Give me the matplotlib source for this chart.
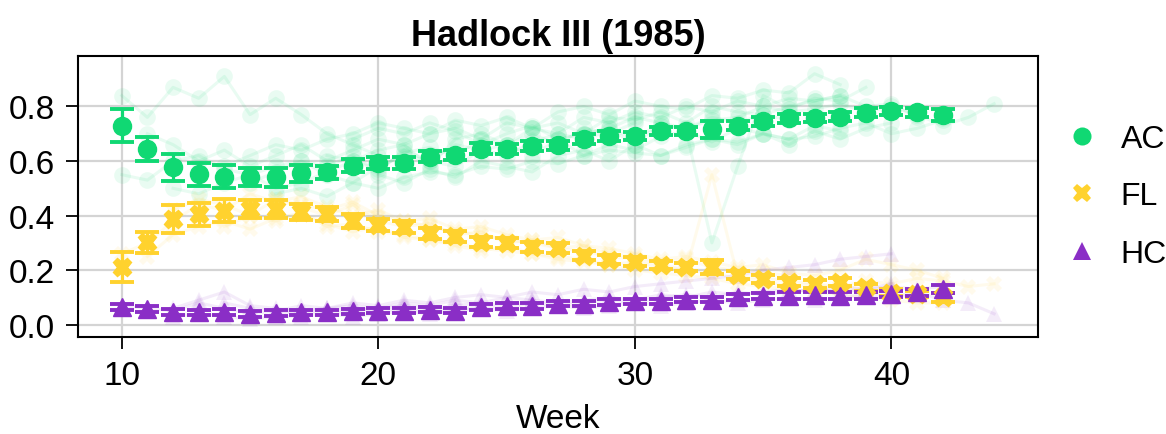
import matplotlib.pyplot as plt
from matplotlib.lines import Line2D

plt.rcParams["font.family"] = ["Liberation Sans", "DejaVu Sans"]

weeks = list(range(10, 43))

ac_mean = [0.730, 0.645, 0.577, 0.552, 0.542, 0.542, 0.540, 0.555, 0.559, 0.582,
           0.592, 0.594, 0.615, 0.622, 0.645, 0.645, 0.655, 0.657, 0.682, 0.692,
           0.692, 0.710, 0.710, 0.716, 0.730, 0.746, 0.756, 0.758, 0.762, 0.777,
           0.783, 0.779, 0.768]
ac_err = [0.060, 0.044, 0.050, 0.042, 0.042, 0.033, 0.034, 0.032, 0.024, 0.024,
          0.022, 0.022, 0.020, 0.020, 0.020, 0.018, 0.020, 0.018, 0.018, 0.018,
          0.016, 0.016, 0.016, 0.030, 0.018, 0.016, 0.016, 0.016, 0.016, 0.016,
          0.016, 0.016, 0.022]

fl_mean = [0.212, 0.302, 0.387, 0.405, 0.418, 0.424, 0.424, 0.412, 0.405, 0.381,
           0.366, 0.357, 0.335, 0.324, 0.302, 0.300, 0.284, 0.280, 0.253, 0.239,
           0.231, 0.219, 0.211, 0.211, 0.183, 0.168, 0.156, 0.150, 0.156, 0.138,
           0.118, 0.113, 0.100]
fl_err = [0.056, 0.039, 0.052, 0.042, 0.041, 0.032, 0.032, 0.030, 0.025, 0.025,
          0.022, 0.022, 0.020, 0.020, 0.018, 0.018, 0.018, 0.018, 0.016, 0.016,
          0.016, 0.015, 0.015, 0.025, 0.015, 0.014, 0.014, 0.014, 0.014, 0.013,
          0.012, 0.012, 0.018]

hc_mean = [0.065, 0.058, 0.046, 0.045, 0.046, 0.040, 0.043, 0.045, 0.045, 0.049,
           0.052, 0.052, 0.055, 0.052, 0.065, 0.068, 0.068, 0.077, 0.077, 0.083,
           0.086, 0.086, 0.092, 0.092, 0.101, 0.105, 0.107, 0.108, 0.107, 0.108,
           0.113, 0.119, 0.131]
hc_err = [0.010, 0.010, 0.010, 0.010, 0.010, 0.010, 0.010, 0.010, 0.010, 0.010,
          0.010, 0.010, 0.010, 0.010, 0.010, 0.010, 0.010, 0.010, 0.010, 0.010,
          0.010, 0.010, 0.010, 0.010, 0.012, 0.012, 0.012, 0.012, 0.012, 0.012,
          0.012, 0.012, 0.016]

# individual studies: (first week, values)
ac_traces = [
    (10, [0.84, 0.76, 0.87, 0.83, 0.91, 0.77, 0.83, 0.77, 0.70, 0.66, 0.62]),
    (10, [0.55, 0.53, 0.60, 0.62, 0.57, 0.55, 0.50, 0.52, 0.56, 0.60, 0.57, 0.63, 0.65,
          0.62, 0.68, 0.66, 0.70, 0.66, 0.72, 0.70, 0.74]),
    (12, [0.50, 0.48, 0.52, 0.55, 0.58, 0.60, 0.55, 0.52, 0.58, 0.62, 0.60, 0.58, 0.64,
          0.66, 0.62, 0.68, 0.70, 0.72, 0.66, 0.74, 0.72, 0.75, 0.76, 0.80, 0.78, 0.79,
          0.81, 0.78]),
    (28, [0.70, 0.72, 0.76, 0.74, 0.71, 0.30, 0.58, 0.84, 0.79, 0.83, 0.82, 0.87]),
    (14, [0.58, 0.62, 0.66, 0.64, 0.68, 0.70, 0.74, 0.72, 0.70, 0.75, 0.73, 0.76, 0.72,
          0.78, 0.80, 0.77, 0.82, 0.80, 0.79, 0.84, 0.83, 0.86, 0.85, 0.92, 0.88]),
    (16, [0.48, 0.50, 0.47, 0.52, 0.50, 0.54, 0.56, 0.55, 0.58, 0.57, 0.60, 0.59, 0.62,
          0.64, 0.63, 0.62, 0.66, 0.68, 0.66, 0.70, 0.68, 0.69, 0.72, 0.74, 0.70, 0.72,
          0.75]),
    (18, [0.62, 0.60, 0.64, 0.66, 0.58, 0.68, 0.70, 0.66, 0.72, 0.74, 0.70, 0.76, 0.75,
          0.78, 0.74, 0.80, 0.78, 0.77, 0.80, 0.82, 0.84, 0.80, 0.81, 0.76]),
    (39, [0.78, 0.80, 0.77, 0.73, 0.76, 0.81]),
    (20, [0.55, 0.52, 0.57, 0.54, 0.60, 0.58, 0.56, 0.62, 0.64, 0.60, 0.66, 0.62, 0.65,
          0.68, 0.67, 0.70, 0.66, 0.71, 0.68, 0.72, 0.74]),
    (11, [0.70, 0.66, 0.60, 0.64, 0.58, 0.62, 0.66, 0.60, 0.64, 0.68, 0.66, 0.70, 0.72,
          0.68, 0.74, 0.72, 0.70, 0.76, 0.74, 0.78, 0.76, 0.80, 0.78, 0.82, 0.80, 0.83,
          0.82, 0.84]),
    (15, [0.52, 0.56, 0.60, 0.58, 0.62, 0.56, 0.64, 0.60, 0.66, 0.64, 0.62, 0.67, 0.70,
          0.68, 0.71, 0.69, 0.73, 0.72, 0.76, 0.74, 0.77, 0.75]),
    (19, [0.68, 0.72, 0.70, 0.74, 0.71, 0.66, 0.70, 0.73, 0.68, 0.62, 0.66, 0.64, 0.69,
          0.71, 0.67, 0.72, 0.70, 0.68, 0.73, 0.71]),
]

fl_traces = [
    (10, [0.26, 0.30, 0.38, 0.44, 0.42, 0.48, 0.45, 0.47, 0.43, 0.40, 0.42, 0.38, 0.36,
          0.34, 0.33, 0.31, 0.30, 0.28, 0.27, 0.25, 0.24, 0.22, 0.20, 0.55, 0.18, 0.17,
          0.16, 0.15, 0.14, 0.13, 0.12]),
    (11, [0.25, 0.33, 0.36, 0.38, 0.35, 0.39, 0.41, 0.37, 0.34, 0.36, 0.32, 0.31, 0.29,
          0.27, 0.29, 0.26, 0.25, 0.24, 0.22, 0.23, 0.21, 0.20, 0.19, 0.17, 0.16, 0.14,
          0.15, 0.13, 0.12, 0.11, 0.10]),
    (12, [0.42, 0.46, 0.44, 0.40, 0.46, 0.44, 0.42, 0.45, 0.40, 0.38, 0.39, 0.35, 0.36,
          0.33, 0.31, 0.32, 0.29, 0.28, 0.26, 0.24, 0.25, 0.23, 0.21, 0.22, 0.19, 0.18,
          0.20, 0.24, 0.22, 0.20, 0.17]),
    (14, [0.36, 0.40, 0.38, 0.41, 0.36, 0.37, 0.34, 0.33, 0.31, 0.30, 0.28, 0.27, 0.26,
          0.24, 0.23, 0.22, 0.20, 0.19, 0.18, 0.17, 0.15, 0.14, 0.13, 0.12, 0.11, 0.10,
          0.09, 0.08, 0.08]),
    (38, [0.14, 0.16, 0.15, 0.17, 0.16, 0.14, 0.15]),
    (16, [0.46, 0.43, 0.40, 0.44, 0.38, 0.36, 0.37, 0.33, 0.34, 0.30, 0.31, 0.28, 0.29,
          0.26, 0.25, 0.23, 0.24, 0.21, 0.20, 0.19, 0.18]),
]

hc_traces = [
    (10, [0.07, 0.06, 0.05, 0.08, 0.06, 0.04, 0.05, 0.05, 0.06, 0.05, 0.06, 0.07, 0.06,
          0.07, 0.08, 0.07, 0.09, 0.08, 0.09, 0.10, 0.09, 0.11, 0.10, 0.12, 0.11, 0.12,
          0.13, 0.12, 0.14, 0.13, 0.14, 0.13, 0.14]),
    (14, [0.08, 0.06, 0.05, 0.07, 0.06, 0.08, 0.07, 0.09, 0.08, 0.10, 0.11, 0.10, 0.12,
          0.11, 0.13, 0.12, 0.14, 0.15, 0.16, 0.17, 0.18, 0.20, 0.21, 0.22, 0.24, 0.25,
          0.26]),
    (12, [0.03, 0.04, 0.03, 0.02, 0.03, 0.03, 0.04, 0.03, 0.04, 0.05, 0.04, 0.05, 0.06,
          0.05, 0.06, 0.07, 0.06, 0.07, 0.08, 0.07, 0.08, 0.09, 0.08, 0.09, 0.10, 0.09,
          0.10, 0.11, 0.10, 0.12, 0.09, 0.08, 0.04]),
    (16, [0.04, 0.05, 0.04, 0.05, 0.06, 0.05, 0.06, 0.05, 0.07, 0.06, 0.08, 0.07, 0.08,
          0.09, 0.08, 0.10, 0.11, 0.10, 0.12, 0.11, 0.12, 0.13, 0.12, 0.13, 0.15]),
    (12, [0.06, 0.09, 0.12, 0.07, 0.06, 0.05, 0.06, 0.07, 0.06, 0.08, 0.07, 0.09, 0.08,
          0.10, 0.09]),
]

labels = ["AC", "FL", "HC"]
colors = ["#10d873", "#ffd22e", "#8a2ec6"]
markers = ["o", "X", "^"]

fig = plt.figure(figsize=(11.66, 4.35), dpi=100)
ax = fig.add_axes([0.067, 0.223, 0.823, 0.646])

for traces, c, m in zip([ac_traces, fl_traces, hc_traces], colors, markers):
    for start, vals in traces:
        xs = list(range(start, start + len(vals)))
        ax.plot(xs, vals, color=c, marker=m, ms=12, lw=2.2, alpha=0.09,
                markeredgewidth=0, zorder=1)

for means, errs, c, m in zip([ac_mean, fl_mean, hc_mean], [ac_err, fl_err, hc_err],
                             colors, markers):
    ax.errorbar(weeks, means, yerr=errs, color=c, marker=m, ms=13, ls="none",
                elinewidth=2.3, capsize=8.5, capthick=2.8, zorder=3)

ax.set_xlim(8.3, 45.7)
ax.set_ylim(-0.045, 0.985)
ax.set_xticks([10, 20, 30, 40])
ax.set_yticks([0.0, 0.2, 0.4, 0.6, 0.8])
ax.grid(True, color="#d4d4d4", lw=1.6, zorder=0)
ax.set_axisbelow(True)
for s in ax.spines.values():
    s.set_linewidth(1.5)
ax.tick_params(labelsize=24, length=8.5, width=1.3, pad=8)
ax.set_xlabel("Week", fontsize=24, labelpad=9)
ax.set_title("Hadlock III (1985)", fontsize=26, fontweight="bold", pad=8)

handles = [Line2D([], [], color=c, marker=m, ls="none", ms=13, markeredgewidth=0)
           for c, m in zip(colors, markers)]
ax.legend(handles, labels, loc="center left", bbox_to_anchor=(1.0, 0.5),
          frameon=False, fontsize=23, labelspacing=0.86, handlelength=1.0,
          handletextpad=0.7)

fig.savefig("out.png", dpi=100)
